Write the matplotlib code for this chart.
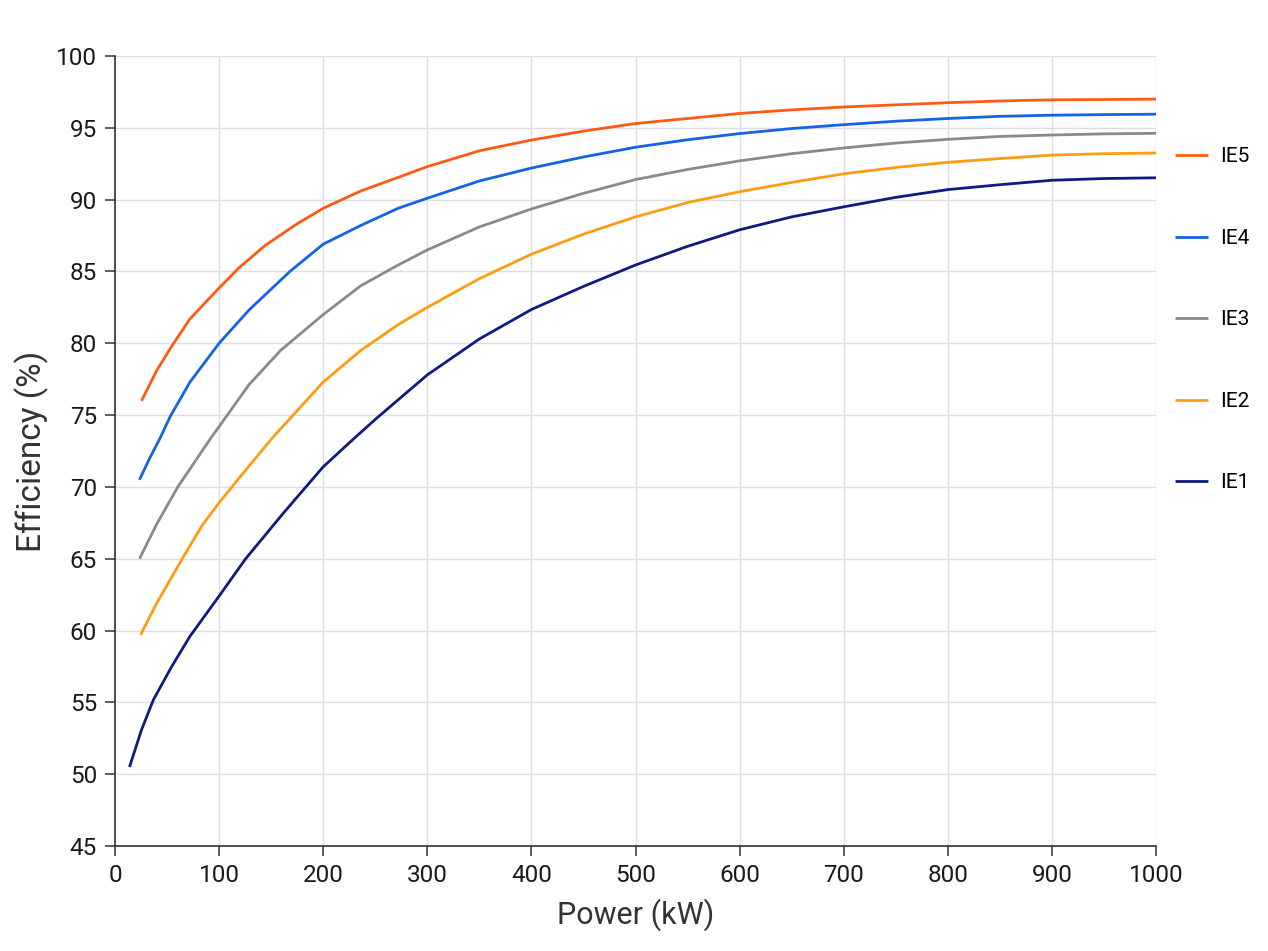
import numpy as np
import matplotlib
matplotlib.use('Agg')
import matplotlib.pyplot as plt

plt.rcParams['font.family'] = ['Roboto', 'DejaVu Sans']

########################################
# Data
########################################

ie5_x = [25.5, 40, 54.5, 72, 100, 119, 144, 174.5, 200, 236, 272, 300, 350, 400,
         450, 500, 550, 600, 650, 700, 750, 800, 850, 900, 950, 1000]
ie5_y = [76.0, 78.1, 79.8, 81.7, 83.85, 85.25, 86.8, 88.3, 89.4, 90.6, 91.55, 92.3, 93.4, 94.15,
         94.77, 95.3, 95.65, 96.0, 96.25, 96.45, 96.6, 96.75, 96.87, 96.95, 96.97, 97.0]

ie4_x = [23.5, 34, 44, 53, 72, 100, 128.5, 168, 200, 236, 272, 300, 350, 400,
         450, 500, 550, 600, 650, 700, 750, 800, 850, 900, 950, 1000]
ie4_y = [70.5, 72.1, 73.5, 74.9, 77.3, 80.0, 82.3, 85.0, 86.9, 88.2, 89.4, 90.1, 91.3, 92.2,
         92.97, 93.65, 94.17, 94.6, 94.95, 95.22, 95.46, 95.65, 95.8, 95.88, 95.92, 95.95]

ie3_x = [23.5, 40, 60.3, 79, 92, 100, 128.5, 159, 200, 236, 272, 300, 350, 400,
         450, 500, 550, 600, 650, 700, 750, 800, 850, 900, 950, 1000]
ie3_y = [65.0, 67.4, 70.0, 72.0, 73.4, 74.2, 77.1, 79.5, 82.0, 84.0, 85.45, 86.5, 88.1, 89.35,
         90.44, 91.4, 92.1, 92.7, 93.2, 93.6, 93.94, 94.2, 94.4, 94.5, 94.58, 94.62]

ie2_x = [24.6, 40, 64.6, 83.5, 100, 119, 151, 200, 236, 272, 300, 350, 400,
         450, 500, 550, 600, 650, 700, 750, 800, 850, 900, 950, 1000]
ie2_y = [59.7, 61.9, 65.0, 67.3, 68.9, 70.6, 73.4, 77.3, 79.5, 81.3, 82.5, 84.5, 86.2,
         87.6, 88.8, 89.8, 90.55, 91.2, 91.8, 92.24, 92.6, 92.86, 93.1, 93.2, 93.25]

ie1_x = [13.9, 25.5, 37, 54.5, 72, 100, 125.5, 162, 200, 230, 250, 300, 350, 400,
         450, 500, 550, 600, 650, 700, 750, 800, 850, 900, 950, 1000]
ie1_y = [50.5, 53.1, 55.2, 57.5, 59.6, 62.4, 65.0, 68.2, 71.4, 73.4, 74.7, 77.8, 80.3, 82.35,
         83.96, 85.45, 86.75, 87.9, 88.8, 89.5, 90.16, 90.7, 91.04, 91.35, 91.47, 91.52]

labels = ['IE5', 'IE4', 'IE3', 'IE2', 'IE1']
colors = ['#ff5a14', '#1463e6', '#8a8a8a', '#ff9c14', '#101a80']
xs = [ie5_x, ie4_x, ie3_x, ie2_x, ie1_x]
ys = [ie5_y, ie4_y, ie3_y, ie2_y, ie1_y]

x_ticks = [0, 100, 200, 300, 400, 500, 600, 700, 800, 900, 1000]
y_ticks = [45, 50, 55, 60, 65, 70, 75, 80, 85, 90, 95, 100]

########################################
# Plot
########################################

fig = plt.figure(figsize=(12.68, 9.51), dpi=100)
ax = fig.add_axes([0.0907, 0.1104, 0.8210, 0.8307])

for x, y, c, lab in zip(xs, ys, colors, labels):
    ax.plot(x, y, color=c, lw=2.0, label=lab, solid_capstyle='butt', solid_joinstyle='round')

ax.set_xlim(0, 1000)
ax.set_ylim(45, 100)
ax.set_xticks(x_ticks)
ax.set_yticks(y_ticks)
ax.grid(True, color='#dedede', lw=1.0)
ax.set_axisbelow(True)

for s in ['top', 'right']:
    ax.spines[s].set_visible(False)
for s in ['left', 'bottom']:
    ax.spines[s].set_color('#333333')
    ax.spines[s].set_linewidth(1.2)

ax.tick_params(axis='both', direction='out', length=7, width=1.1, color='#333333',
               labelsize=17.5, labelcolor='#1a1a1a', pad=6)

ax.set_xlabel('Power (kW)', fontsize=22, color='#333333', labelpad=8)
ax.set_ylabel('Efficiency (%)', fontsize=24, color='#333333', labelpad=5)

ax.legend(loc='upper left', bbox_to_anchor=(1.01, 0.895), frameon=False,
          fontsize=15, handlelength=1.6, handletextpad=0.6, labelspacing=3.0,
          borderaxespad=0.0)

plt.savefig('out.png', dpi=100)
